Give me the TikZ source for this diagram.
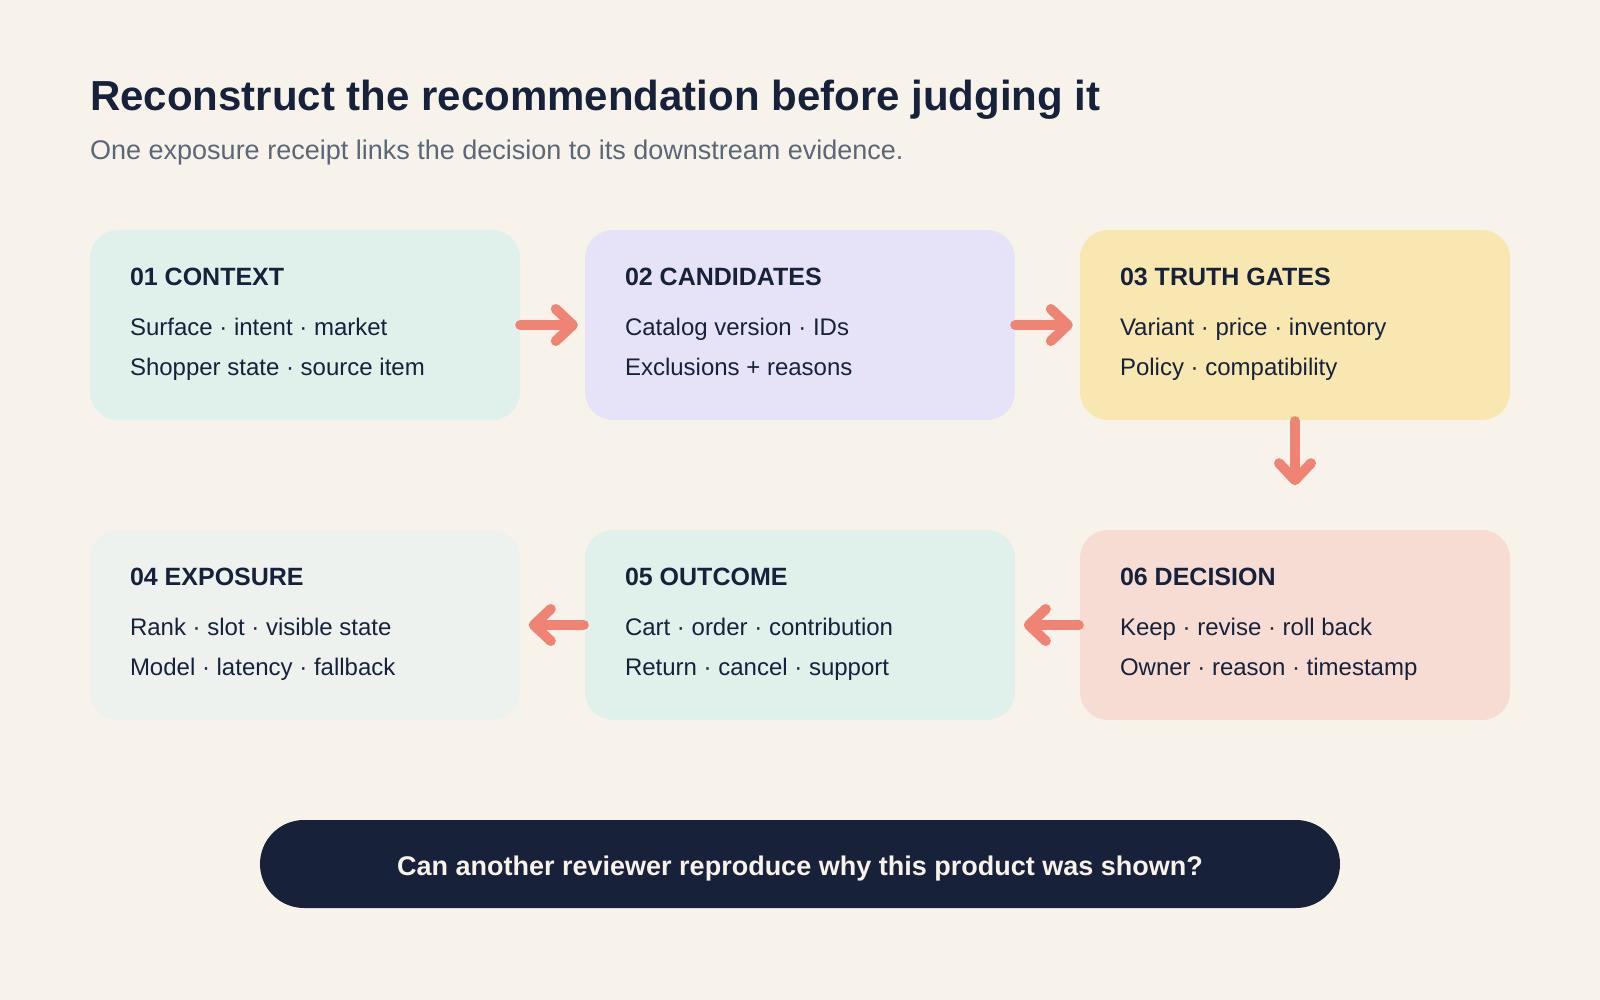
\documentclass[tikz,border=0pt]{standalone}
\usepackage{fontspec}
\setmainfont{Liberation Sans}
\usetikzlibrary{arrows.meta,calc}
\definecolor{bgc}{HTML}{F7F3EA}
\definecolor{mint}{HTML}{DFF1EA}
\definecolor{lav}{HTML}{E6E3F9}
\definecolor{yel}{HTML}{F8E7B0}
\definecolor{grayc}{HTML}{EEF2EF}
\definecolor{pinkc}{HTML}{F7DCD4}
\definecolor{salmon}{HTML}{EF8474}
\definecolor{ink}{HTML}{17223A}
\definecolor{subc}{HTML}{5B6779}
\definecolor{pillc}{HTML}{17223A}
\tikzset{
  card/.style={draw=none, rounded corners=28pt, minimum width=430pt, minimum height=190pt, inner sep=0pt},
  head/.style={anchor=base west, inner sep=0pt, text=ink, font=\fontsize{25}{30}\selectfont\bfseries},
  body/.style={anchor=base west, inner sep=0pt, text=ink, font=\fontsize{24}{29}\selectfont},
  flow/.style={draw=salmon, line width=10pt, line cap=round, -{Straight Barb[length=17pt,width=32pt,round]}},
  pill/.style={fill=pillc, rounded corners=44pt, minimum width=1080pt, minimum height=88pt, inner sep=0pt},
  pilltext/.style={anchor=base, inner sep=0pt, text=bgc, font=\fontsize{27}{32}\selectfont\bfseries},
}
\begin{document}
\begin{tikzpicture}[x=1pt,y=-1pt]
\fill[bgc] (0,0) rectangle (1600,1000);
\useasboundingbox (0,0) rectangle (1600,1000);

\node[anchor=base west, inner sep=0pt, text=ink, font=\fontsize{42}{50}\selectfont\bfseries] (title) at (90,111) {Reconstruct the recommendation before judging it};
\node[anchor=base west, inner sep=0pt, text=subc, font=\fontsize{27}{32}\selectfont] (sub) at (90,160) {One exposure receipt links the decision to its downstream evidence.};

% row 1
\node[card, fill=mint] (c1) at (305,325) {};
\node[card, fill=lav]  (c2) at (800,325) {};
\node[card, fill=yel]  (c3) at (1295,325) {};
% row 2
\node[card, fill=grayc] (c4) at (305,625) {};
\node[card, fill=mint]  (c5) at (800,625) {};
\node[card, fill=pinkc] (c6) at (1295,625) {};

\foreach \c/\h/\a/\b in {
  c1/{01 CONTEXT}/{Surface · intent · market}/{Shopper state · source item},
  c2/{02 CANDIDATES}/{Catalog version · IDs}/{Exclusions + reasons},
  c3/{03 TRUTH GATES}/{Variant · price · inventory}/{Policy · compatibility},
  c4/{04 EXPOSURE}/{Rank · slot · visible state}/{Model · latency · fallback},
  c5/{05 OUTCOME}/{Cart · order · contribution}/{Return · cancel · support},
  c6/{06 DECISION}/{Keep · revise · roll back}/{Owner · reason · timestamp}}{
  \node[head] (\c h) at ($(\c.north west)+(40,56)$) {\h};
  \node[body] (\c a) at ($(\c.north west)+(40,106)$) {\a};
  \node[body] (\c b) at ($(\c.north west)+(40,146)$) {\b};
}

% connectors
\draw[flow] (c1.east) -- ([xshift=-7pt]c2.west);
\draw[flow] (c2.east) -- ([xshift=-7pt]c3.west);
\draw[flow] ([yshift=-1pt]c3.south) -- ([yshift=-65pt]c3.south);
\draw[flow] ([xshift=-1pt]c6.west) -- ([xshift=-56pt]c6.west);
\draw[flow] ([xshift=-1pt]c5.west) -- ([xshift=-56pt]c5.west);

% question pill
\node[pill] (q) at (800,864) {};
\node[pilltext] (qt) at ([yshift=-11pt]q.center) {Can another reviewer reproduce why this product was shown?};
\end{tikzpicture}
\end{document}
